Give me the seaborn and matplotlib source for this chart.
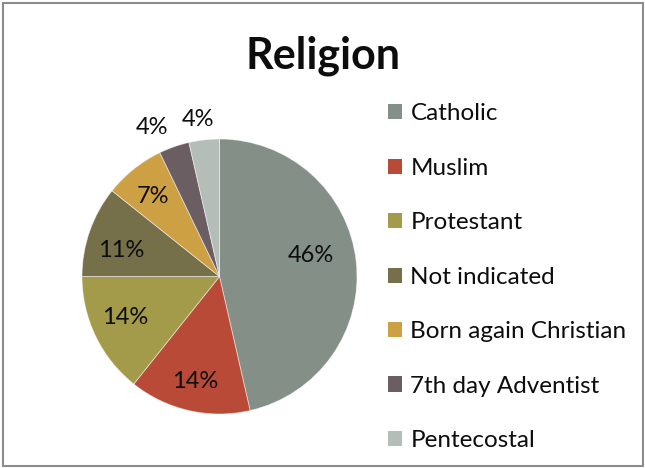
import numpy as np
import matplotlib
matplotlib.use("Agg")
import matplotlib.pyplot as plt
from matplotlib.patches import Rectangle
import seaborn as sns

# Survey respondents by religion (counts)
religions = ["Catholic", "Muslim", "Protestant", "Not indicated",
             "Born again Christian", "7th day Adventist", "Pentecostal"]
counts = [13, 4, 4, 3, 2, 1, 1]
slice_colors = ["#848F87", "#B84A37", "#A39A4A", "#75704A",
                "#CEA044", "#6A5E63", "#B5BDB9"]

# Label placement (radius as fraction of pie radius, angular nudge in degrees)
label_radius = [0.683, 0.784, 0.746, 0.737, 0.761, 1.185, 1.151]
label_nudge = [-6.7, 0.0, 2.3, -4.4, -1.2, -5.0, -1.4]

sns.set_theme(style="white")
plt.rcParams["font.family"] = ["Lato", "DejaVu Sans"]
palette = sns.color_palette(slice_colors)

W, H = 645, 468
fig = plt.figure(figsize=(W / 100, H / 100), dpi=100)
fig.patch.set_facecolor("white")

# Pie axes: centre and radius in pixels
cx, cy, R = 219.5, 276.5, 137.5
ax = fig.add_axes([(cx - R) / W, (H - cy - R) / H, 2 * R / W, 2 * R / H])

total = sum(counts)
wedges, _ = ax.pie(
    counts,
    colors=palette,
    startangle=90,
    counterclock=False,
    radius=1.0,
    wedgeprops=dict(edgecolor=(1, 1, 1, 0.55), linewidth=0.6),
)
ax.set_xlim(-1, 1)
ax.set_ylim(-1, 1)
ax.set_aspect("equal")
ax.axis("off")

for w, n, r, nudge in zip(wedges, counts, label_radius, label_nudge):
    mid = np.deg2rad((w.theta1 + w.theta2) / 2 - nudge)
    ax.text(r * np.cos(mid), r * np.sin(mid), f"{100 * n / total:.0f}%",
            ha="center", va="center", fontsize=17, color="#0d0d0d",
            clip_on=False)

# Title
fig.text(323 / W, (H - 69) / H, "Religion", ha="center", va="baseline",
         fontsize=31, fontweight="bold", color="#0d0d0d")

# Legend
fs = 17.5
fs_px = fs * 100 / 72
leg = fig.legend(
    wedges, religions,
    loc="upper left",
    bbox_to_anchor=(387.5 / W, (H - 103.5) / H),
    frameon=False,
    fontsize=fs,
    handlelength=14 / fs_px,
    handleheight=14 / fs_px,
    handletextpad=9 / fs_px,
    labelspacing=1.375,
    borderpad=0,
    borderaxespad=0,
)
for t in leg.get_texts():
    t.set_color("#0d0d0d")
for h in leg.legend_handles:
    h.set_edgecolor("none")

# Chart frame
fig.patches.append(Rectangle((2.5 / W, 2.5 / H), (W - 5) / W, (H - 5) / H,
                             transform=fig.transFigure, fill=False,
                             edgecolor="#8C8C8C", linewidth=1.5))

fig.savefig("out.png", dpi=100)
